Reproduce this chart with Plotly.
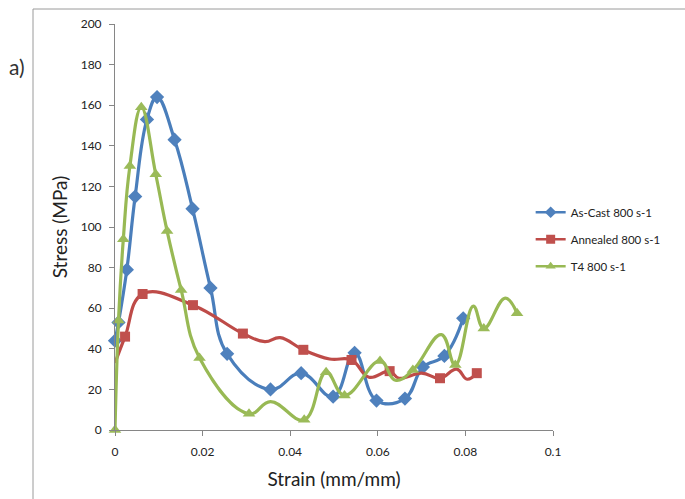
import plotly.graph_objects as go

# ---- data ----
ascast_x = [0, 0.0008, 0.0027, 0.0046, 0.0073, 0.0096, 0.0136, 0.0177, 0.0218, 0.0256,
            0.0355, 0.0425, 0.0498, 0.0547, 0.0597, 0.0662, 0.0703, 0.0752, 0.0795]
ascast_y = [44, 53, 79, 115, 153, 164, 143, 109, 70, 37.5,
            20, 28, 16.4, 38, 14.5, 15.5, 31, 36.5, 55]
ascast_marked = [True] * len(ascast_x)

annealed_x = [0, 0.0023, 0.0063, 0.0178, 0.0292, 0.0342, 0.0377, 0.0430, 0.0490, 0.0540,
              0.0580, 0.0627, 0.0648, 0.0700, 0.0742, 0.0780, 0.0804, 0.0826]
annealed_y = [33, 46, 67, 61.5, 47.5, 43.5, 45.5, 39.5, 35, 34.5,
              26, 29, 25.5, 28, 25.5, 30, 25, 28]
annealed_marked = [False, True, True, True, True, False, False, True, False, True,
                   False, True, False, False, True, False, False, True]

t4_x = [0, 0.0008, 0.0019, 0.0034, 0.0060, 0.0093, 0.0119, 0.0151, 0.0193, 0.0306,
        0.0355, 0.0432, 0.0482, 0.0524, 0.0605, 0.0640, 0.0680, 0.0745, 0.0777,
        0.0818, 0.0842, 0.0891, 0.0918]
t4_y = [0, 54, 94, 130, 159, 126, 98, 69, 35.5, 8,
        14, 5, 28.5, 17, 34, 24.5, 29.5, 47, 32,
        61, 50, 65, 57.5]
t4_marked = [True, True, True, True, True, True, True, True, True, True,
             False, True, True, True, True, False, True, False, True,
             False, True, False, True]

x_ticks = [0, 0.02, 0.04, 0.06, 0.08, 0.1]
x_tick_labels = ["0", "0.02", "0.04", "0.06", "0.08", "0.1"]
y_ticks = list(range(0, 201, 20))

series = [
    ("As-Cast 800 s-1", ascast_x, ascast_y, ascast_marked, "#4A7EBB", "#4F81BD", "diamond", 11),
    ("Annealed 800 s-1", annealed_x, annealed_y, annealed_marked, "#BE4B48", "#C0504D", "square", 10),
    ("T4 800 s-1", t4_x, t4_y, t4_marked, "#98B954", "#9BBB59", "triangle-up", 11),
]

fig = go.Figure()
for name, xs, ys, mk, lc, mc, sym, ms in series:
    fig.add_trace(go.Scatter(
        x=xs, y=ys, mode="lines", showlegend=False, legendgroup=name,
        line=dict(color=lc, width=3.2, shape="spline", smoothing=1.2),
        hoverinfo="skip", cliponaxis=False))
    fig.add_trace(go.Scatter(
        x=[a for a, m in zip(xs, mk) if m], y=[b for b, m in zip(ys, mk) if m],
        mode="markers", showlegend=False, legendgroup=name, name=name,
        marker=dict(color=mc, symbol=sym, size=ms, line=dict(width=0)),
        cliponaxis=False))
    fig.add_trace(go.Scatter(
        x=[None], y=[None], mode="lines+markers", name=name, legendgroup=name,
        line=dict(color=lc, width=2.5),
        marker=dict(color=mc, symbol=sym, size=9)))

axis_common = dict(showgrid=False, zeroline=False, showline=True, linecolor="#868686",
                   linewidth=1, ticks="outside", ticklen=5, tickcolor="#868686",
                   tickfont=dict(family="Lato", size=12, color="#222"))

fig.update_layout(
    width=685, height=499,
    margin=dict(l=115, r=132, t=24, b=69),
    paper_bgcolor="white", plot_bgcolor="white",
    font=dict(family="Lato", color="#222"),
    xaxis=dict(range=[0, 0.1], tickvals=x_ticks, ticktext=x_tick_labels, ticklabelstandoff=6,
               title=dict(text="Strain (mm/mm)", font=dict(size=19, color="#222"), standoff=14),
               **axis_common),
    yaxis=dict(range=[0, 200], tickvals=y_ticks, ticklabelstandoff=5,
               title=dict(text="Stress (MPa)", font=dict(size=19, color="#222"), standoff=8),
               **axis_common),
    legend=dict(x=0.949, y=0.572, xanchor="left", yanchor="top",
                font=dict(family="Lato", size=11.5, color="#222"),
                tracegroupgap=8, bgcolor="rgba(0,0,0,0)"),
    annotations=[dict(text="a)", x=(17 - 115) / 438, y=(430 - 66) / 406,
                      xref="paper", yref="paper", xanchor="center", yanchor="middle",
                      showarrow=False, font=dict(family="Lato", size=21, color="#333"))],
    shapes=[
        dict(type="line", xref="paper", yref="paper", x0=-82 / 438, x1=1.35, y0=421 / 406, y1=421 / 406,
             line=dict(color="#9a9a9a", width=1)),
        dict(type="line", xref="paper", yref="paper", x0=-82 / 438, x1=-82 / 438, y0=421 / 406, y1=-0.2,
             line=dict(color="#9a9a9a", width=1)),
    ],
)

fig.write_html("out.html", config={"displayModeBar": False},
               post_script="document.body.style.margin='0';document.body.style.padding='0';")
